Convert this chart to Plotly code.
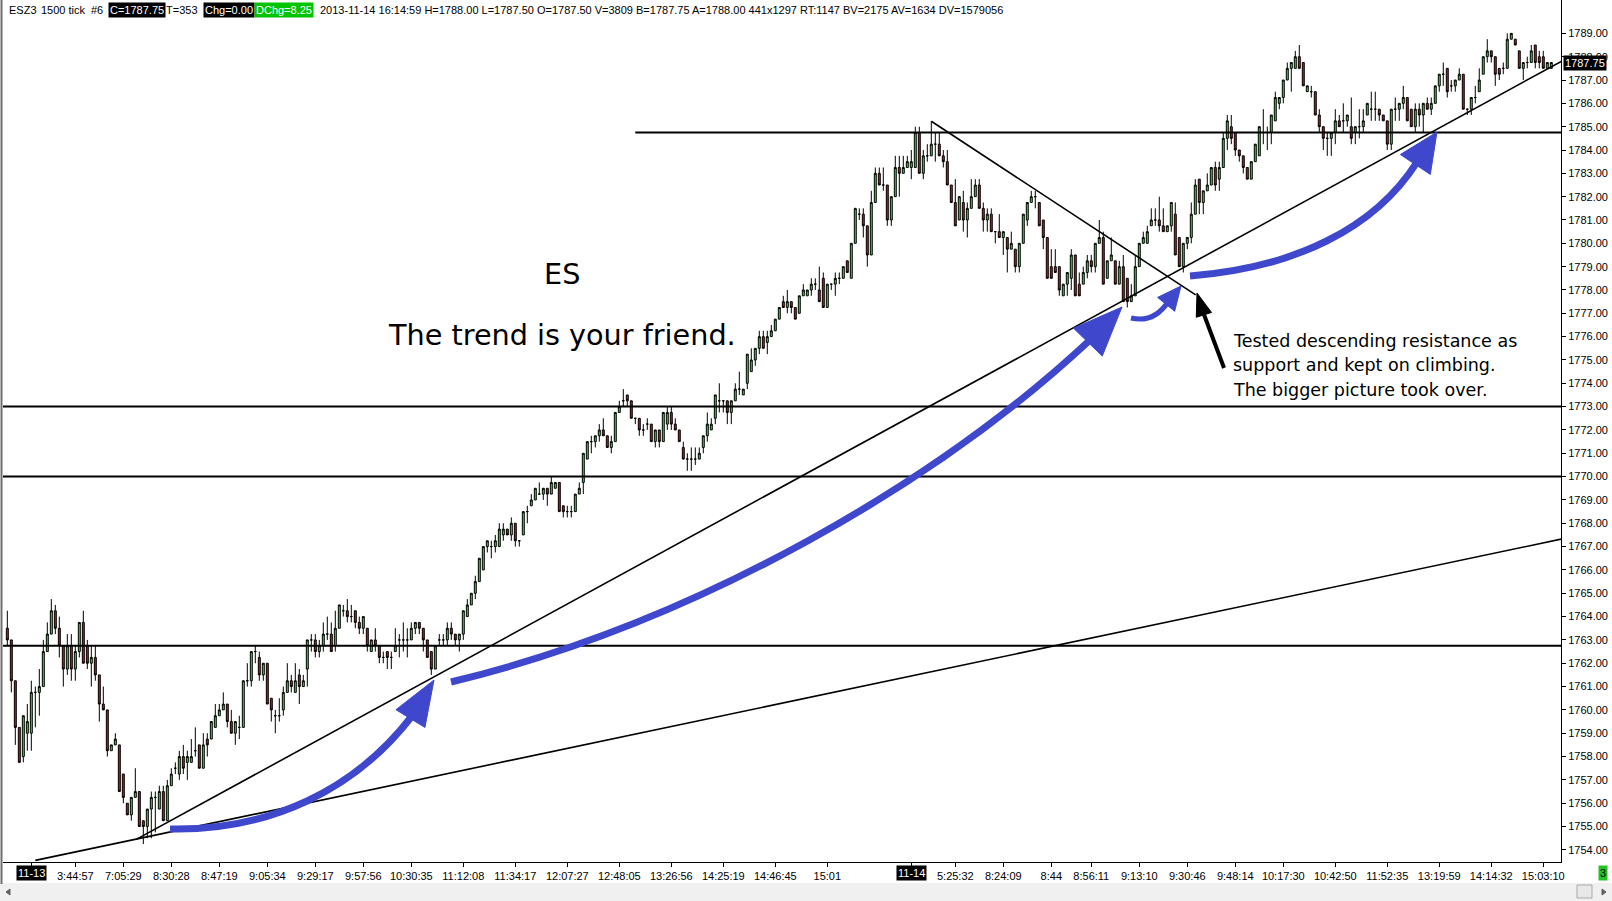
import math
import plotly.graph_objects as go

# ESZ3 1500 tick bars (index 0 = first bar on the left)
open_ = [
    1763.5, 1763.0, 1761.25, 1759.25, 1758.0, 1759.0, 1759.0, 1760.75, 1760.75, 1761.0,
    1762.5, 1763.25, 1764.25, 1763.5, 1762.75, 1761.75, 1762.75, 1761.75, 1762.5, 1763.75,
    1762.75, 1762.0, 1762.25, 1761.5, 1760.25, 1760.0, 1758.25, 1758.5, 1758.5, 1757.25,
    1756.0, 1755.5, 1756.25, 1756.5, 1755.25, 1755.0, 1755.75, 1756.25, 1755.75, 1756.5,
    1755.25, 1756.75, 1757.5, 1757.25, 1758.0, 1757.75, 1757.75, 1758.25, 1758.5, 1757.5,
    1758.75, 1758.75, 1759.25, 1759.75, 1760.0, 1760.25, 1759.5, 1759.0, 1759.25, 1759.25,
    1761.25, 1761.25, 1762.5, 1762.25, 1761.5, 1762.0, 1760.5, 1759.75, 1759.75, 1760.0,
    1760.75, 1761.25, 1760.75, 1761.5, 1761.0, 1761.75, 1763.0, 1763.0, 1762.5, 1762.75,
    1763.25, 1763.25, 1762.75, 1763.5, 1764.25, 1764.25, 1764.0, 1764.25, 1763.75, 1763.5,
    1763.5, 1762.5, 1763.0, 1762.75, 1762.25, 1762.5, 1762.25, 1762.5, 1763.0, 1763.0,
    1763.0, 1763.0, 1763.5, 1763.75, 1763.5, 1763.0, 1762.5, 1761.75, 1763.0, 1763.0,
    1763.0, 1763.5, 1763.25, 1763.0, 1763.25, 1764.0, 1764.5, 1765.0, 1765.5, 1766.0,
    1767.0, 1767.0, 1767.0, 1767.0, 1767.5, 1767.75, 1767.5, 1768.0, 1767.25, 1767.5,
    1768.5, 1768.75, 1769.0, 1769.25, 1769.25, 1769.5, 1769.25, 1769.5, 1769.75, 1768.75,
    1768.5, 1768.5, 1768.5, 1769.25, 1769.75, 1770.75, 1771.5, 1771.5, 1771.75, 1772.0,
    1771.75, 1771.25, 1771.5, 1772.75, 1773.25, 1773.5, 1773.25, 1772.5, 1772.5, 1772.0,
    1772.25, 1772.25, 1771.5, 1772.0, 1771.5, 1772.25, 1772.75, 1772.25, 1772.0, 1771.25,
    1770.75, 1770.75, 1770.75, 1770.75, 1771.25, 1771.75, 1772.0, 1772.5, 1773.25, 1773.25,
    1773.25, 1772.75, 1773.25, 1773.75, 1773.5, 1774.0, 1774.5, 1775.0, 1775.5, 1776.0,
    1775.75, 1776.0, 1776.25, 1776.75, 1777.5, 1777.25, 1777.5, 1777.25, 1777.0, 1777.75,
    1777.75, 1778.0, 1778.25, 1778.0, 1778.5, 1777.25, 1778.25, 1778.25, 1778.5, 1778.5,
    1779.25, 1778.5, 1780.0, 1781.25, 1781.25, 1780.75, 1779.5, 1781.75, 1783.0, 1782.5,
    1782.5, 1781.0, 1782.0, 1783.25, 1783.0, 1783.25, 1783.25, 1783.25, 1784.75, 1783.0,
    1783.75, 1783.75, 1784.25, 1784.25, 1783.75, 1783.5, 1782.5, 1781.75, 1781.0, 1781.75,
    1781.0, 1781.5, 1782.0, 1782.5, 1781.5, 1781.0, 1781.25, 1780.5, 1780.5, 1780.25,
    1780.25, 1779.75, 1779.75, 1779.0, 1780.0, 1781.0, 1781.75, 1782.0, 1781.75, 1781.0,
    1780.25, 1779.0, 1779.0, 1779.0, 1777.75, 1778.25, 1778.5, 1779.5, 1778.25, 1778.25,
    1778.75, 1779.25, 1779.0, 1780.0, 1780.25, 1778.5, 1779.25, 1779.25, 1778.25, 1779.0,
    1778.5, 1777.5, 1777.75, 1779.0, 1780.0, 1780.0, 1780.75, 1781.0, 1781.0, 1780.75,
    1780.5, 1780.75, 1781.25, 1780.25, 1779.0, 1780.0, 1780.25, 1781.25, 1782.75, 1781.75,
    1782.25, 1782.5, 1783.25, 1782.75, 1783.25, 1784.5, 1785.0, 1784.75, 1784.0, 1783.75,
    1783.25, 1782.75, 1783.5, 1783.75, 1784.75, 1784.75, 1784.75, 1785.25, 1786.0, 1786.25,
    1787.0, 1787.5, 1787.5, 1788.0, 1787.75, 1786.5, 1786.5, 1786.5, 1785.5, 1785.0,
    1784.5, 1784.5, 1784.75, 1785.25, 1785.25, 1785.25, 1785.0, 1784.75, 1785.0, 1785.0,
    1785.5, 1785.75, 1785.75, 1785.75, 1785.5, 1785.25, 1784.25, 1785.75, 1785.75, 1786.0,
    1786.25, 1785.75, 1785.0, 1785.75, 1785.5, 1786.0, 1785.75, 1786.0, 1786.75, 1787.25,
    1787.5, 1786.75, 1786.75, 1787.0, 1787.25, 1785.75, 1785.75, 1786.25, 1786.5, 1787.25,
    1788.0, 1788.25, 1788.0, 1787.5, 1787.5, 1787.5, 1788.75, 1788.75, 1788.25, 1787.5,
    1787.75, 1787.75, 1788.5, 1788.0, 1788.0, 1787.5, 1787.5,
]
high = [
    1764.25, 1763.0, 1761.25, 1759.25, 1759.75, 1760.25, 1761.25, 1761.0, 1761.75, 1763.0,
    1763.75, 1764.75, 1764.5, 1764.0, 1762.75, 1763.25, 1763.25, 1762.75, 1763.75, 1764.25,
    1763.0, 1762.75, 1762.75, 1761.5, 1761.0, 1760.0, 1758.5, 1759.0, 1758.5, 1757.25,
    1756.0, 1756.25, 1757.5, 1756.5, 1755.25, 1755.75, 1756.5, 1756.5, 1756.75, 1756.75,
    1757.0, 1757.5, 1757.75, 1758.25, 1758.5, 1758.25, 1758.75, 1759.25, 1758.5, 1759.0,
    1759.0, 1759.5, 1760.25, 1760.25, 1760.75, 1760.25, 1760.0, 1759.5, 1759.75, 1761.25,
    1762.0, 1762.5, 1762.75, 1762.5, 1762.0, 1762.0, 1760.5, 1760.0, 1760.5, 1761.0,
    1762.0, 1761.5, 1762.0, 1761.75, 1761.5, 1763.0, 1763.25, 1763.25, 1763.0, 1763.75,
    1764.0, 1763.75, 1764.25, 1764.5, 1764.5, 1764.75, 1764.5, 1764.25, 1764.0, 1764.0,
    1763.5, 1763.0, 1763.5, 1762.75, 1762.5, 1762.5, 1762.5, 1763.5, 1763.25, 1763.75,
    1763.5, 1763.75, 1763.75, 1763.75, 1763.5, 1763.0, 1762.5, 1762.75, 1763.25, 1763.25,
    1763.75, 1763.75, 1763.25, 1763.25, 1764.25, 1764.75, 1765.0, 1765.75, 1766.5, 1767.0,
    1767.25, 1767.25, 1767.5, 1768.0, 1768.0, 1767.75, 1768.25, 1768.0, 1767.25, 1768.5,
    1768.75, 1769.25, 1769.5, 1769.75, 1769.5, 1769.5, 1770.0, 1769.75, 1769.75, 1768.75,
    1768.75, 1768.75, 1769.25, 1769.75, 1771.0, 1771.5, 1771.75, 1771.75, 1772.25, 1772.5,
    1771.75, 1771.75, 1772.75, 1773.25, 1773.75, 1773.5, 1773.25, 1772.5, 1772.5, 1772.25,
    1772.5, 1772.25, 1772.0, 1772.0, 1772.75, 1773.0, 1773.0, 1772.5, 1772.0, 1771.5,
    1771.0, 1771.25, 1771.25, 1771.25, 1771.75, 1772.75, 1772.5, 1773.5, 1774.0, 1773.25,
    1773.25, 1773.25, 1774.0, 1774.5, 1773.75, 1775.25, 1775.5, 1775.5, 1776.25, 1776.25,
    1776.25, 1776.5, 1776.75, 1777.25, 1777.75, 1778.0, 1777.5, 1777.25, 1777.75, 1778.25,
    1778.0, 1778.5, 1778.5, 1779.0, 1778.75, 1778.25, 1778.25, 1778.75, 1778.75, 1779.0,
    1779.25, 1780.0, 1781.5, 1781.5, 1781.5, 1780.75, 1782.25, 1783.25, 1783.25, 1783.25,
    1782.5, 1782.0, 1783.75, 1783.75, 1783.75, 1783.75, 1784.0, 1785.0, 1785.0, 1784.0,
    1784.25, 1785.25, 1784.75, 1784.75, 1784.0, 1784.0, 1782.5, 1782.75, 1782.0, 1782.25,
    1781.75, 1782.75, 1782.75, 1782.75, 1781.75, 1781.5, 1781.5, 1780.5, 1781.25, 1780.5,
    1780.25, 1780.5, 1779.75, 1780.0, 1781.25, 1781.75, 1782.25, 1782.25, 1781.75, 1781.0,
    1780.25, 1779.75, 1779.75, 1779.0, 1778.25, 1778.75, 1779.75, 1779.5, 1778.75, 1779.0,
    1779.5, 1779.5, 1780.0, 1781.0, 1780.5, 1779.25, 1780.25, 1779.25, 1779.25, 1779.5,
    1778.5, 1778.25, 1779.5, 1780.0, 1780.5, 1780.75, 1781.5, 1781.5, 1782.0, 1781.5,
    1780.75, 1781.75, 1781.75, 1780.25, 1780.0, 1780.25, 1781.75, 1782.75, 1782.75, 1782.25,
    1783.0, 1783.25, 1783.5, 1783.5, 1784.75, 1785.5, 1785.5, 1784.75, 1784.0, 1783.75,
    1783.25, 1783.5, 1784.25, 1785.0, 1785.75, 1785.0, 1785.5, 1786.5, 1786.25, 1787.0,
    1787.75, 1787.75, 1788.25, 1788.5, 1787.75, 1786.75, 1786.75, 1786.5, 1785.75, 1785.0,
    1784.75, 1784.75, 1785.75, 1785.5, 1786.0, 1785.5, 1786.25, 1785.0, 1785.75, 1785.75,
    1786.0, 1786.5, 1786.5, 1785.75, 1785.5, 1785.25, 1785.75, 1786.25, 1786.0, 1786.75,
    1786.25, 1785.75, 1786.0, 1786.0, 1786.0, 1786.25, 1786.25, 1786.75, 1787.25, 1787.75,
    1787.5, 1787.0, 1787.0, 1787.5, 1787.25, 1785.75, 1786.25, 1786.75, 1787.5, 1788.0,
    1788.75, 1788.25, 1788.0, 1787.5, 1787.75, 1789.0, 1789.0, 1788.75, 1788.25, 1787.75,
    1788.0, 1788.5, 1788.5, 1788.25, 1788.25, 1787.75, 1787.75,
]
low = [
    1762.75, 1760.75, 1758.5, 1757.75, 1757.75, 1758.25, 1758.25, 1759.25, 1759.75, 1761.0,
    1762.5, 1763.25, 1763.25, 1762.25, 1761.0, 1761.5, 1761.25, 1761.25, 1762.25, 1762.0,
    1761.75, 1761.0, 1761.25, 1759.5, 1760.0, 1758.0, 1758.25, 1758.5, 1756.5, 1756.0,
    1755.5, 1755.25, 1756.25, 1755.0, 1754.25, 1754.5, 1754.5, 1754.75, 1755.75, 1755.25,
    1755.25, 1756.75, 1757.25, 1757.0, 1757.25, 1757.0, 1757.75, 1758.0, 1757.5, 1757.5,
    1758.0, 1758.75, 1759.25, 1759.75, 1760.0, 1759.25, 1759.0, 1758.5, 1758.75, 1759.25,
    1761.0, 1761.0, 1762.0, 1761.25, 1761.25, 1760.25, 1759.5, 1759.0, 1759.5, 1759.75,
    1760.75, 1760.75, 1760.75, 1760.25, 1761.0, 1761.0, 1762.5, 1762.25, 1762.25, 1762.5,
    1763.0, 1762.5, 1762.5, 1763.5, 1764.0, 1763.75, 1763.75, 1763.5, 1763.25, 1763.25,
    1762.5, 1762.5, 1762.5, 1762.0, 1762.0, 1761.75, 1761.75, 1762.5, 1762.25, 1762.5,
    1762.25, 1763.0, 1763.25, 1763.25, 1762.5, 1762.25, 1761.5, 1761.75, 1762.75, 1762.75,
    1762.75, 1763.0, 1762.75, 1762.5, 1763.0, 1764.0, 1764.5, 1764.75, 1765.5, 1766.0,
    1766.75, 1766.5, 1766.75, 1767.0, 1767.25, 1767.5, 1767.25, 1767.0, 1767.0, 1767.5,
    1768.0, 1768.75, 1769.0, 1769.25, 1769.0, 1768.75, 1769.25, 1769.5, 1768.5, 1768.25,
    1768.25, 1768.25, 1768.5, 1769.25, 1769.25, 1770.75, 1771.0, 1771.25, 1771.5, 1771.75,
    1771.25, 1771.0, 1771.5, 1772.75, 1773.0, 1773.0, 1772.5, 1772.25, 1771.75, 1771.75,
    1772.0, 1771.5, 1771.25, 1771.25, 1771.5, 1772.0, 1772.0, 1772.0, 1771.5, 1770.75,
    1770.25, 1770.25, 1770.5, 1770.75, 1771.0, 1771.5, 1772.0, 1772.25, 1772.75, 1772.75,
    1772.25, 1772.25, 1773.25, 1773.5, 1773.5, 1773.75, 1774.5, 1774.75, 1775.25, 1775.5,
    1775.25, 1776.0, 1776.25, 1776.75, 1777.25, 1777.0, 1777.0, 1776.75, 1777.0, 1777.75,
    1777.75, 1777.75, 1778.0, 1777.5, 1777.25, 1777.25, 1778.0, 1777.75, 1778.25, 1778.5,
    1778.75, 1778.5, 1780.0, 1781.0, 1780.25, 1779.0, 1779.5, 1781.75, 1782.5, 1782.25,
    1780.75, 1780.75, 1782.0, 1782.0, 1783.0, 1783.25, 1782.75, 1783.25, 1783.0, 1782.75,
    1783.5, 1783.75, 1783.5, 1783.75, 1783.25, 1782.5, 1781.75, 1780.75, 1781.0, 1780.5,
    1780.25, 1781.5, 1782.0, 1781.5, 1780.5, 1780.5, 1780.5, 1780.0, 1780.25, 1779.5,
    1778.75, 1779.75, 1778.75, 1778.75, 1780.0, 1780.75, 1781.75, 1781.5, 1780.75, 1779.75,
    1778.5, 1778.5, 1778.75, 1777.75, 1777.75, 1777.75, 1778.0, 1777.75, 1777.75, 1778.25,
    1778.5, 1778.75, 1778.75, 1780.0, 1778.25, 1778.5, 1779.25, 1778.25, 1778.25, 1777.5,
    1777.25, 1777.5, 1777.75, 1779.0, 1780.0, 1780.0, 1780.75, 1780.75, 1780.5, 1780.5,
    1780.5, 1780.5, 1779.5, 1779.0, 1778.75, 1779.75, 1780.0, 1781.25, 1781.25, 1781.25,
    1782.25, 1782.5, 1782.25, 1782.25, 1783.25, 1784.0, 1784.25, 1783.75, 1783.5, 1783.0,
    1782.75, 1782.75, 1783.5, 1783.75, 1784.25, 1784.0, 1784.25, 1785.25, 1785.75, 1786.0,
    1787.0, 1786.5, 1787.5, 1787.5, 1786.75, 1786.5, 1786.25, 1785.5, 1784.75, 1784.0,
    1783.75, 1783.75, 1784.25, 1785.0, 1784.75, 1785.0, 1784.25, 1784.25, 1784.5, 1784.75,
    1785.5, 1785.25, 1785.25, 1785.25, 1785.25, 1784.0, 1784.0, 1785.25, 1785.25, 1785.75,
    1785.25, 1785.0, 1784.75, 1785.0, 1784.75, 1785.75, 1785.5, 1786.0, 1786.5, 1786.75,
    1786.25, 1786.5, 1786.5, 1787.0, 1785.75, 1785.5, 1785.5, 1786.0, 1786.5, 1787.25,
    1787.75, 1787.75, 1786.75, 1787.0, 1787.25, 1787.5, 1788.75, 1788.5, 1787.5, 1787.0,
    1787.5, 1787.75, 1787.5, 1787.5, 1787.5, 1787.5, 1787.5,
]
close = [
    1763.0, 1761.25, 1759.25, 1757.75, 1759.75, 1759.5, 1760.75, 1760.75, 1761.0, 1762.5,
    1763.25, 1764.25, 1763.5, 1762.75, 1761.75, 1762.75, 1761.75, 1762.5, 1763.75, 1762.0,
    1762.0, 1762.25, 1761.5, 1760.25, 1760.0, 1758.25, 1758.5, 1758.75, 1756.5, 1756.25,
    1755.5, 1756.25, 1756.5, 1755.0, 1755.0, 1755.75, 1756.25, 1756.25, 1756.5, 1755.25,
    1756.75, 1757.25, 1757.5, 1758.0, 1757.5, 1758.0, 1758.0, 1758.25, 1757.5, 1758.5,
    1758.5, 1759.5, 1759.75, 1760.0, 1760.25, 1759.5, 1759.0, 1759.5, 1759.25, 1761.25,
    1761.25, 1762.5, 1762.5, 1761.5, 1762.0, 1760.25, 1760.0, 1759.75, 1759.75, 1760.75,
    1761.25, 1761.0, 1761.25, 1761.0, 1761.25, 1763.0, 1763.0, 1762.5, 1762.75, 1763.25,
    1763.25, 1762.5, 1763.5, 1764.5, 1764.25, 1764.0, 1764.0, 1763.75, 1763.5, 1764.0,
    1762.75, 1763.0, 1762.75, 1762.25, 1762.25, 1762.25, 1762.25, 1762.75, 1763.0, 1763.0,
    1763.0, 1763.5, 1763.75, 1763.5, 1763.0, 1762.25, 1761.75, 1762.75, 1763.0, 1763.0,
    1763.5, 1763.25, 1763.0, 1763.25, 1764.25, 1764.5, 1765.0, 1765.5, 1766.5, 1767.0,
    1767.25, 1767.0, 1767.25, 1767.75, 1767.75, 1767.5, 1768.0, 1767.25, 1767.25, 1768.5,
    1768.5, 1769.0, 1769.5, 1769.25, 1769.5, 1769.25, 1769.75, 1769.75, 1768.5, 1768.5,
    1768.5, 1768.5, 1769.25, 1769.5, 1771.0, 1771.5, 1771.5, 1771.75, 1772.0, 1771.75,
    1771.25, 1771.5, 1772.75, 1773.0, 1773.25, 1773.25, 1772.5, 1772.5, 1772.0, 1772.0,
    1772.25, 1771.5, 1772.0, 1771.5, 1772.75, 1772.75, 1772.25, 1772.0, 1771.5, 1770.75,
    1770.75, 1770.75, 1770.75, 1771.0, 1771.75, 1772.25, 1772.25, 1773.5, 1773.25, 1773.25,
    1772.75, 1773.25, 1773.75, 1773.75, 1773.75, 1775.25, 1775.0, 1775.5, 1776.0, 1775.5,
    1776.0, 1776.25, 1776.75, 1777.25, 1777.25, 1777.5, 1777.25, 1776.75, 1777.75, 1778.0,
    1778.0, 1778.25, 1778.25, 1777.5, 1777.25, 1778.25, 1778.25, 1778.5, 1778.5, 1779.0,
    1778.75, 1780.0, 1781.5, 1781.25, 1780.75, 1779.5, 1781.75, 1783.0, 1782.5, 1782.5,
    1781.0, 1782.0, 1783.25, 1783.0, 1783.25, 1783.5, 1783.5, 1784.75, 1783.0, 1783.75,
    1783.75, 1784.25, 1784.25, 1783.75, 1783.5, 1782.5, 1781.75, 1780.75, 1782.0, 1781.0,
    1781.5, 1782.0, 1782.5, 1781.5, 1781.0, 1781.25, 1780.5, 1780.5, 1780.25, 1780.5,
    1779.75, 1780.0, 1779.0, 1780.0, 1781.25, 1781.75, 1782.0, 1782.0, 1780.75, 1780.25,
    1778.5, 1778.5, 1778.75, 1778.0, 1778.25, 1778.75, 1779.5, 1777.75, 1777.75, 1778.75,
    1779.25, 1779.0, 1780.0, 1780.25, 1778.25, 1779.25, 1779.5, 1778.25, 1779.0, 1777.5,
    1777.5, 1777.75, 1779.0, 1780.0, 1780.25, 1780.5, 1781.0, 1781.0, 1780.75, 1780.5,
    1780.75, 1781.75, 1779.5, 1779.0, 1780.0, 1780.25, 1781.25, 1782.5, 1781.75, 1782.25,
    1782.5, 1783.25, 1782.5, 1783.25, 1784.5, 1785.25, 1784.5, 1784.0, 1783.75, 1783.25,
    1782.75, 1783.5, 1784.25, 1785.0, 1784.75, 1784.75, 1785.5, 1786.25, 1786.25, 1787.0,
    1787.5, 1787.75, 1788.0, 1787.5, 1786.75, 1786.75, 1786.5, 1785.5, 1785.0, 1784.5,
    1784.5, 1784.75, 1785.25, 1785.0, 1785.25, 1785.5, 1784.5, 1785.0, 1785.0, 1785.25,
    1786.0, 1785.75, 1785.75, 1785.5, 1785.25, 1784.25, 1785.75, 1785.75, 1786.0, 1786.25,
    1785.25, 1785.0, 1785.75, 1785.5, 1786.0, 1785.75, 1786.0, 1786.75, 1787.25, 1787.25,
    1786.5, 1786.75, 1787.0, 1787.25, 1785.75, 1785.75, 1786.25, 1786.25, 1787.0, 1788.0,
    1788.25, 1788.0, 1787.25, 1787.25, 1787.5, 1788.75, 1789.0, 1788.5, 1787.5, 1787.75,
    1787.75, 1788.25, 1787.75, 1787.75, 1787.5, 1787.75, 1787.75,
]
assert len(open_) == len(high) == len(low) == len(close)
bars = list(range(len(close)))

tick_pos = [6, 17, 29, 41, 53, 65, 77, 89, 101, 114, 127, 140, 153, 166, 179, 192, 205,
            226, 237, 249, 261, 271, 283, 295, 307, 319, 332, 345, 358, 371, 384]
tick_labels = ["11-13", "3:44:57", "7:05:29", "8:30:28", "8:47:19", "9:05:34", "9:29:17",
               "9:57:56", "10:30:35", "11:12:08", "11:34:17", "12:07:27", "12:48:05",
               "13:26:56", "14:25:19", "14:46:45", "15:01", "11-14", "5:25:32", "8:24:09",
               "8:44", "8:56:11", "9:13:10", "9:30:46", "9:48:14", "10:17:30", "10:42:50",
               "11:52:35", "13:19:59", "14:14:32", "15:03:10"]
date_labels = ["11-13", "11-14"]
price_ticks = list(range(1754, 1790))

# horizontal levels and the bar where each one starts
levels = [1784.75, 1773.0, 1770.0, 1762.75]
level_start = [157, -2, -2, -2]
# trend lines drawn on the chart: (bar0, price0, bar1, price1)
trend_lines = [
    (32.35, 1754.46, 388.5, 1787.80),
    (7.0, 1753.55, 388.5, 1767.32),
    (231.1, 1785.22, 297.1, 1777.79),
]
last_price = 1787.75

W, H = 1612, 901
L, R, T, B = 3, 1561, 0, 862   # plot area in pixels
X_RANGE = [-1.08, 388.43]
Y_RANGE = [1753.48, 1790.43]
BLUE = "#3f48cc"
SMALL = dict(family="Liberation Sans, Arial, sans-serif", size=11, color="black")


def paper(px, py):
    return (px - L) / (R - L), (B - py) / (B - T)


def fmt(pts):
    return " ".join("%.5f,%.5f" % paper(x, y) for x, y in pts)


def arrow(shaft, tip, half, width, color, curved=True):
    out = []
    if curved:
        p0, p1, p2, p3 = shaft
        path = "M %s C %s" % (fmt([p0]), fmt([p1, p2, p3]))
    else:
        p0, p3 = shaft
        path = "M %s L %s" % (fmt([p0]), fmt([p3]))
    out.append(dict(type="path", xref="paper", yref="paper", path=path,
                    line=dict(color=color, width=width)))
    dx, dy = tip[0] - p3[0], tip[1] - p3[1]
    n = math.hypot(dx, dy)
    nx, ny = -dy / n, dx / n
    back = (p3[0] - dx / n * 3, p3[1] - dy / n * 3)
    c1 = (back[0] + nx * half, back[1] + ny * half)
    c2 = (back[0] - nx * half, back[1] - ny * half)
    out.append(dict(type="path", xref="paper", yref="paper",
                    path="M %s L %s L %s Z" % (fmt([tip]), fmt([c1]), fmt([c2])),
                    fillcolor=color, line=dict(color=color, width=1)))
    return out


fig = go.Figure(go.Candlestick(
    x=bars, open=open_, high=high, low=low, close=close,
    increasing=dict(line=dict(color="black", width=1), fillcolor="#2ee82e"),
    decreasing=dict(line=dict(color="black", width=1), fillcolor="#e01010"),
    whiskerwidth=0, hoverinfo="skip", showlegend=False,
))

shapes = []
for lv, st in zip(levels, level_start):
    shapes.append(dict(type="line", xref="x", yref="y", x0=st, x1=X_RANGE[1], y0=lv, y1=lv,
                       line=dict(color="black", width=2)))
for x0, y0, x1, y1 in trend_lines:
    shapes.append(dict(type="line", xref="x", yref="y", x0=x0, y0=y0, x1=x1, y1=y1,
                       line=dict(color="black", width=1.6)))

# hand drawn arrows (pixel positions on the 1612x901 picture)
shapes += arrow([(170, 829), (270, 831), (355, 790), (412, 716)], (434, 680), 17, 7, BLUE)
shapes += arrow([(451, 682), (700, 622), (940, 480), (1090, 340)], (1122, 307), 20, 7, BLUE)
shapes += arrow([(1131, 318), (1148, 322), (1160, 314), (1168, 302)], (1181, 286), 11, 5, BLUE)
shapes += arrow([(1190, 276), (1295, 268), (1375, 228), (1417, 162)], (1437, 132), 18, 7, BLUE)
shapes += arrow([(1224, 368), (1203, 312)], (1197, 293), 8, 4, "black", curved=False)

# frame bits: left edge and bottom scroll bar
shapes.append(dict(type="line", xref="paper", yref="paper", x0=paper(1.5, 0)[0], x1=paper(1.5, 0)[0],
                   y0=paper(0, 0)[1], y1=paper(0, 884)[1], line=dict(color="#6e6e6e", width=2)))
sx0, sy0 = paper(0, 883)
sx1, sy1 = paper(W, H)
shapes.append(dict(type="rect", xref="paper", yref="paper", x0=sx0, y0=sy0, x1=sx1, y1=sy1,
                   fillcolor="#f0f0f0", line=dict(width=0), layer="below"))
tx0, ty0 = paper(1577, 885)
tx1, ty1 = paper(1592, 898)
shapes.append(dict(type="rect", xref="paper", yref="paper", x0=tx0, y0=ty0, x1=tx1, y1=ty1,
                   fillcolor="#e8e8e8", line=dict(color="#a8a8a8", width=1)))
shapes.append(dict(type="path", xref="paper", yref="paper",
                   path="M %s L %s L %s Z" % (fmt([(6, 892)]), fmt([(10, 889)]), fmt([(10, 895)])),
                   fillcolor="#606060", line=dict(color="#606060", width=1)))
shapes.append(dict(type="path", xref="paper", yref="paper",
                   path="M %s L %s L %s Z" % (fmt([(1606, 892)]), fmt([(1602, 889)]), fmt([(1602, 895)])),
                   fillcolor="#606060", line=dict(color="#606060", width=1)))

annotations = []


def note(text, px, py, size, family="DejaVu Sans, sans-serif", xanchor="center",
         color="black", bg=None):
    x, y = paper(px, py)
    annotations.append(dict(text=text, x=x, y=y, xref="paper", yref="paper", showarrow=False,
                            xanchor=xanchor, yanchor="middle", bgcolor=bg, borderpad=1,
                            font=dict(family=family, size=size, color=color)))


note("ES", 562, 274, 28.7)
note("The trend is your friend.", 562, 335, 28.7)
note("Tested descending resistance as", 1231, 341, 17.5, xanchor="left")
note("support and kept on climbing.", 1231, 365, 17.5, xanchor="left")
note("The bigger picture took over.", 1231, 390, 17.5, xanchor="left")

# header line
header = [
    ("ESZ3", 7, None, "black"), ("1500 tick", 39, None, "black"), ("#6", 89, None, "black"),
    ("C=1787.75", 108, "black", "white"), ("T=353", 164, None, "black"),
    ("Chg=0.00", 203, "black", "white"), ("DChg=8.25", 254, "#00c400", "white"),
    ("2013-11-14 16:14:59 H=1788.00 L=1787.50 O=1787.50 V=3809 B=1787.75 A=1788.00 "
     "441x1297 RT:1147 BV=2175 AV=1634 DV=1579056", 318, None, "black"),
]
for text, px, bg, fg in header:
    note(text, px, 10, 11, family=SMALL["family"], xanchor="left", color=fg, bg=bg)

for lab in date_labels:
    x = tick_pos[tick_labels.index(lab)]
    annotations.append(dict(text=lab, x=x, xref="x", y=paper(0, 873)[1], yref="paper",
                            showarrow=False, xanchor="center", yanchor="middle",
                            bgcolor="black", borderpad=1,
                            font=dict(family=SMALL["family"], size=11, color="white")))

annotations.append(dict(text="%.2f" % last_price, x=paper(1563, 0)[0], xref="paper",
                        y=last_price, yref="y", showarrow=False, xanchor="left",
                        yanchor="middle", bgcolor="black", borderpad=1,
                        font=dict(family=SMALL["family"], size=11, color="white")))
note("3", 1603, 873, 11, family=SMALL["family"], color="black", bg="#22c422")

fig.update_layout(
    width=W, height=H,
    margin=dict(l=L, r=W - R, t=T, b=H - B, pad=0),
    paper_bgcolor="white", plot_bgcolor="white",
    shapes=shapes, annotations=annotations,
    xaxis=dict(range=X_RANGE, rangeslider=dict(visible=False), showgrid=False, zeroline=False,
               tickmode="array", tickvals=tick_pos,
               ticktext=["" if t in date_labels else t for t in tick_labels],
               ticks="outside", ticklen=4, tickcolor="black", showline=True,
               linecolor="black", linewidth=1, tickfont=SMALL),
    yaxis=dict(range=Y_RANGE, side="right", showgrid=False, zeroline=False,
               tickmode="array", tickvals=price_ticks, tickformat=".2f",
               ticks="outside", ticklen=4, tickcolor="black", showline=True,
               linecolor="black", linewidth=1, tickfont=SMALL),
)

fig.write_html("out.html", config={"displayModeBar": False},
               post_script="document.body.style.margin='0';")
